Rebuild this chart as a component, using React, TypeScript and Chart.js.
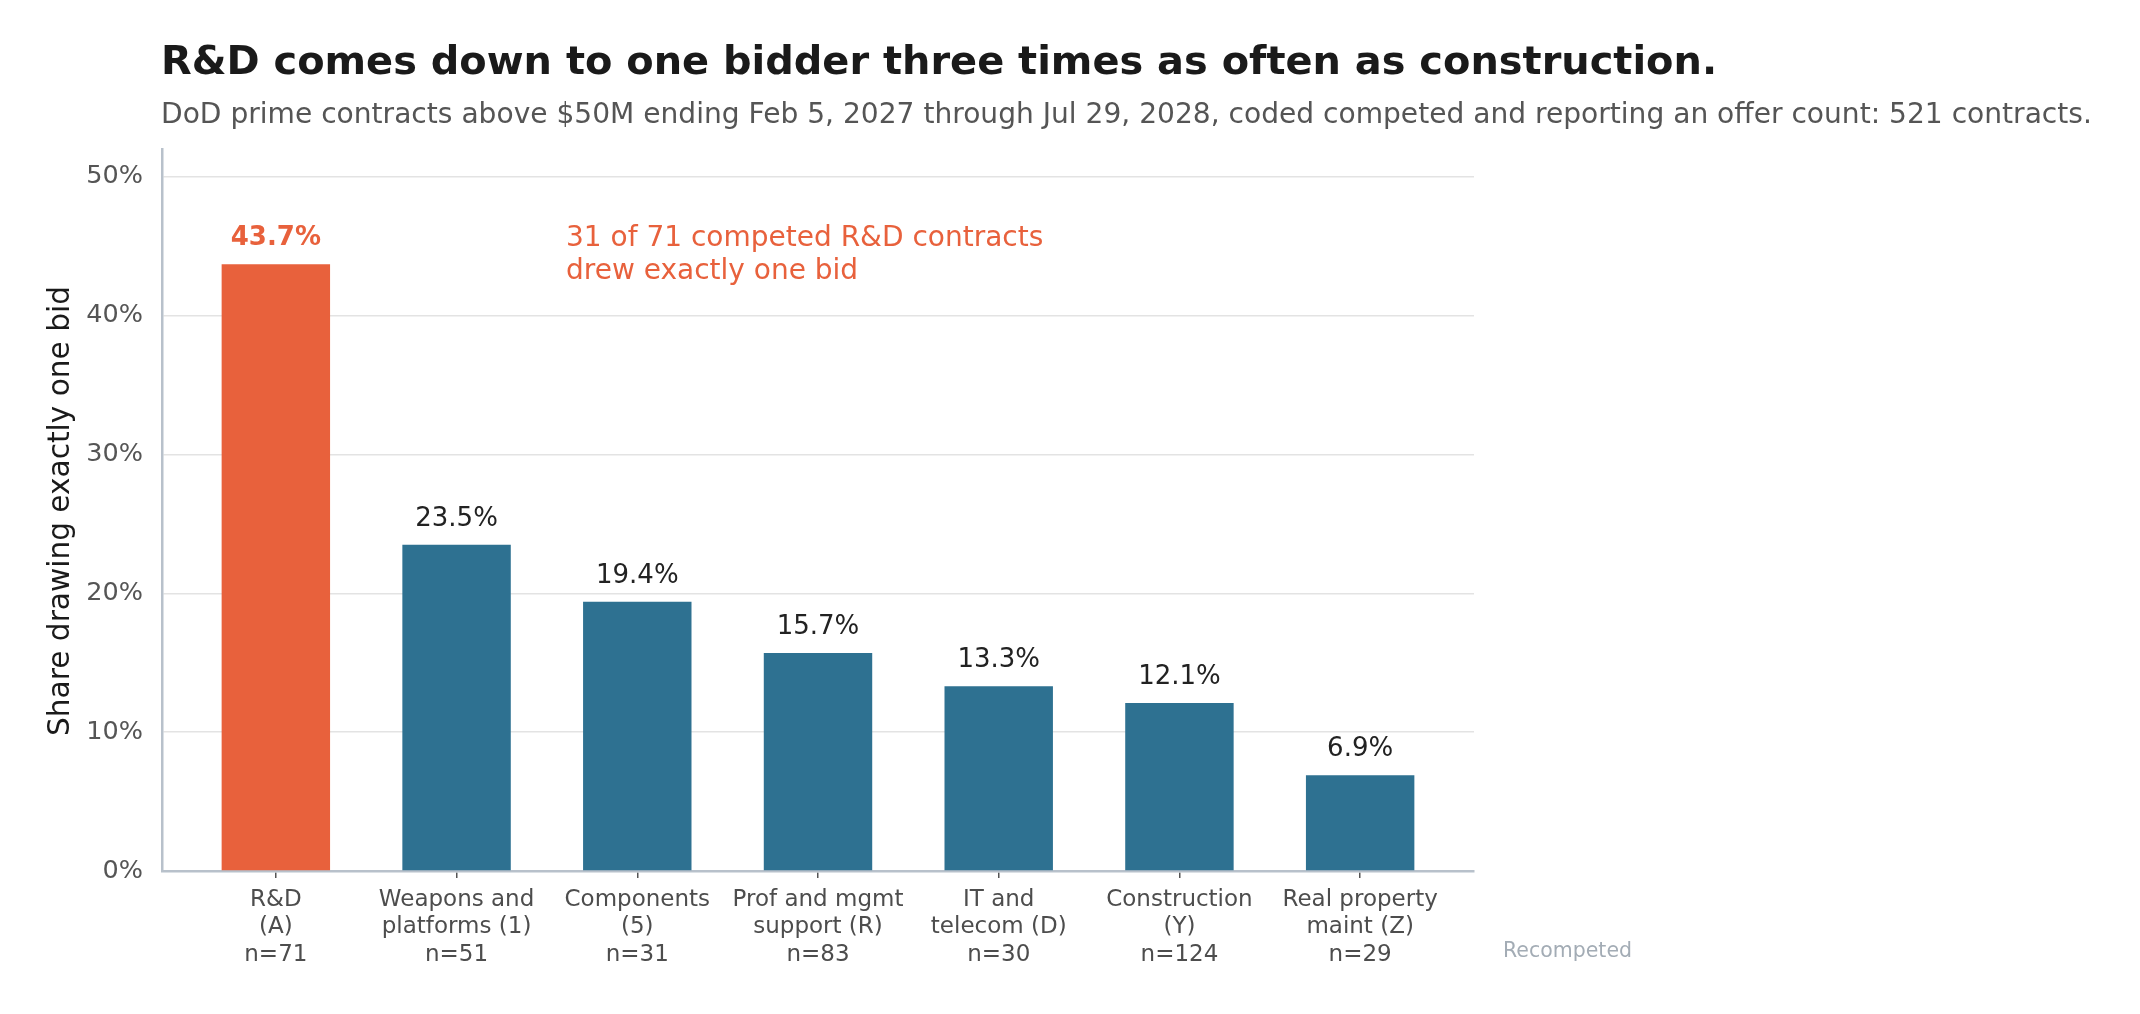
import { useEffect, useRef } from 'react';
import { Chart, registerables, type ChartConfiguration } from 'chart.js';

Chart.register(...registerables);

const categoryLabels = [
  ['R&D', '(A)', 'n=71'],
  ['Weapons and', 'platforms (1)', 'n=51'],
  ['Components', '(5)', 'n=31'],
  ['Prof and mgmt', 'support (R)', 'n=83'],
  ['IT and', 'telecom (D)', 'n=30'],
  ['Construction', '(Y)', 'n=124'],
  ['Real property', 'maint (Z)', 'n=29'],
];
const shareOneBid = [43.7, 23.5, 19.4, 15.7, 13.3, 12.1, 6.9];
const highlightIndex = 0;
const yTicks = [0, 10, 20, 30, 40, 50];

const title = 'R&D comes down to one bidder three times as often as construction.';
const subtitle =
  'DoD prime contracts above $50M ending Feb 5, 2027 through Jul 29, 2028, coded competed and reporting an offer count: 521 contracts.';
const yTitle = 'Share drawing exactly one bid';
const noteLines = ['31 of 71 competed R&D contracts', 'drew exactly one bid'];
const footNote = 'Recompeted';

const ORANGE = '#E8613C';
const BLUE = '#2E7191';
const FONT = '"DejaVu Sans", sans-serif';

const textPlugin = {
  id: 'textPlugin',
  afterDraw(chart: Chart) {
    const { ctx } = chart;
    ctx.save();
    ctx.textBaseline = 'alphabetic';

    ctx.textAlign = 'left';
    ctx.fillStyle = '#1a1a1a';
    ctx.font = `bold 39.9px ${FONT}`;
    ctx.fillText(title, 161, 74);

    ctx.fillStyle = '#555555';
    ctx.font = `28.1px ${FONT}`;
    ctx.fillText(subtitle, 161, 123);

    // bar value labels
    const meta = chart.getDatasetMeta(0);
    ctx.textAlign = 'center';
    meta.data.forEach((bar: any, i: number) => {
      const hi = i === highlightIndex;
      ctx.fillStyle = hi ? ORANGE : '#222222';
      ctx.font = `${hi ? 'bold ' : ''}26px ${FONT}`;
      ctx.fillText(shareOneBid[i].toFixed(1) + '%', bar.x, bar.y - 19);
    });

    // annotation
    ctx.textAlign = 'left';
    ctx.fillStyle = ORANGE;
    ctx.font = `28px ${FONT}`;
    noteLines.forEach((line, i) => ctx.fillText(line, 566, 246 + i * 33));

    ctx.fillStyle = '#A3ACB5';
    ctx.font = `20.5px ${FONT}`;
    ctx.fillText(footNote, 1503, 957);

    // y axis title
    ctx.translate(69, 511);
    ctx.rotate(-Math.PI / 2);
    ctx.textAlign = 'center';
    ctx.fillStyle = '#1a1a1a';
    ctx.font = `29.6px ${FONT}`;
    ctx.fillText(yTitle, 0, 0);
    ctx.restore();
  },
};

export default function App() {
  const chartRef = useRef<HTMLCanvasElement>(null);

  useEffect(() => {
    document.body.style.margin = '0';
    if (!chartRef.current) return;

    const config = {
      type: 'bar',
      data: {
        datasets: [
          {
            data: shareOneBid.map((v, i) => ({ x: i, y: v })),
            backgroundColor: shareOneBid.map((_, i) => (i === highlightIndex ? ORANGE : BLUE)),
            borderWidth: 0,
            barPercentage: 0.6,
            categoryPercentage: 1.0,
          },
        ],
      },
      options: {
        animation: false,
        responsive: true,
        maintainAspectRatio: false,
        layout: { padding: { left: 0, right: 666, top: 149, bottom: 0 } },
        plugins: {
          legend: { display: false },
          tooltip: { enabled: false },
          title: { display: false },
        },
        scales: {
          x: {
            type: 'linear',
            offset: false,
            min: -0.63,
            max: 6.63,
            afterBuildTicks: (axis: any) => {
              axis.ticks = categoryLabels.map((_, i) => ({ value: i }));
            },
            afterFit: (scale: any) => {
              scale.height = 143;
            },
            grid: {
              display: true,
              offset: false,
              drawOnChartArea: false,
              drawTicks: true,
              tickLength: 7,
              color: '#555555',
              lineWidth: 1.5,
            },
            border: { display: true, color: '#B8C1CB', width: 2.5 },
            ticks: {
              autoSkip: false,
              maxRotation: 0,
              minRotation: 0,
              padding: 8,
              color: '#4d4d4d',
              font: { family: FONT, size: 23, lineHeight: 1.2 },
              callback: (value: any) => categoryLabels[Math.round(value)] ?? '',
            },
          },
          y: {
            min: 0,
            max: 52,
            afterBuildTicks: (axis: any) => {
              axis.ticks = yTicks.map((v) => ({ value: v }));
            },
            afterFit: (scale: any) => {
              scale.width = 162;
            },
            grid: {
              display: true,
              drawTicks: false,
              color: '#E3E3E3',
              lineWidth: 1.5,
            },
            border: { display: true, color: '#B8C1CB', width: 2.5 },
            ticks: {
              padding: 19,
              color: '#555555',
              font: { family: FONT, size: 25.5 },
              callback: (value: any) => value + '%',
            },
          },
        },
      },
      plugins: [textPlugin],
    };

    const chart = new Chart(chartRef.current, config as unknown as ChartConfiguration);
    return () => {
      chart.destroy();
    };
  }, []);

  return (
    <div style={{ position: 'fixed', left: 0, top: 0, width: 2140, height: 1014, background: '#fff' }}>
      <canvas ref={chartRef}></canvas>
    </div>
  );
}
